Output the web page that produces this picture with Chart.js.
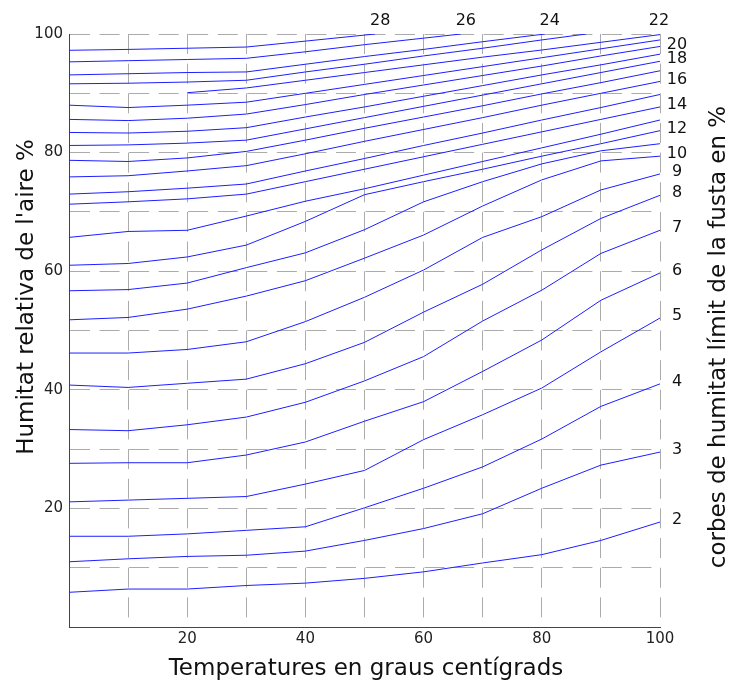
<!DOCTYPE html>
<html>
<head>
<meta charset="utf-8">
<style>
html,body{margin:0;padding:0;background:#fff;}
canvas{display:block;}
</style>
<script src="https://cdn.jsdelivr.net/npm/chart.js@4.4.1/dist/chart.umd.min.js"></script>
</head>
<body>
<canvas id="c" width="729" height="682"></canvas>
<script>
// ---- data ----
const temps = [0, 10, 20, 30, 40, 50, 60, 70, 80, 90, 100];

const c2  = [5.85, 6.4, 6.4, 7.0, 7.4, 8.2, 9.3, 10.8, 12.2, 14.6, 17.7];
const c3  = [11.0, 11.5, 11.9, 12.1, 12.8, 14.6, 16.6, 19.1, 23.4, 27.3, 29.5];
const c4  = [15.3, 15.3, 15.7, 16.3, 16.9, 20.1, 23.4, 27.0, 31.7, 37.2, 41.0];
const c5  = [21.1, 21.4, 21.7, 22.0, 24.1, 26.4, 31.6, 35.8, 40.3, 46.4, 52.1];
const c6  = [27.6, 27.7, 27.7, 29.0, 31.2, 34.7, 38.0, 43.1, 48.4, 55.1, 59.7];
const c7  = [33.3, 33.1, 34.1, 35.4, 37.9, 41.5, 45.6, 51.6, 56.8, 63.0, 66.9];
const c8  = [40.8, 40.4, 41.1, 41.8, 44.4, 48.0, 53.1, 57.8, 63.6, 68.9, 72.8];
const c9  = [46.2, 46.2, 46.8, 48.1, 51.5, 55.6, 60.2, 65.7, 69.2, 73.7, 76.4];
const c10 = [51.8, 52.2, 53.6, 55.8, 58.4, 62.2, 66.1, 71.0, 75.4, 78.6, 79.4];
const c11 = [56.7, 56.9, 58.0, 60.6, 63.1, 67.0, 71.7, 75.1, 78.1, 80.3, 81.5];
const c12 = [61.0, 61.3, 62.4, 64.4, 68.4, 72.9, 75.1, 77.2, 79.4, 81.5, 83.7];
const c13 = [65.7, 66.7, 66.9, 69.3, 71.8, 73.9, 76.2, 78.5, 80.8, 83.1, 85.5];
const c14 = [71.3, 71.7, 72.2, 73.0, 75.1, 77.2, 79.3, 81.4, 83.5, 85.6, 87.7];
const c15 = [73.0, 73.4, 74.0, 74.7, 76.9, 79.0, 81.2, 83.3, 85.5, 87.6, 89.8];
const c16 = [75.9, 76.1, 76.9, 77.8, 79.8, 81.9, 83.9, 85.9, 88.0, 90.0, 92.0];
const c17 = [78.7, 78.5, 79.1, 80.2, 82.1, 84.1, 86.0, 87.9, 89.9, 91.8, 93.8];
const c18 = [81.2, 81.3, 81.6, 82.1, 84.0, 85.9, 87.8, 89.7, 91.6, 93.5, 95.4];
const c19 = [83.4, 83.3, 83.6, 84.2, 86.0, 87.7, 89.5, 91.3, 93.1, 94.8, 96.6];
const c20 = [85.6, 85.4, 85.8, 86.5, 88.1, 89.8, 91.4, 93.0, 94.6, 96.3, 97.9];
const c21 = [88.0, 87.6, 88.0, 88.5, 90.0, 91.5, 93.0, 94.5, 96.0, 97.5, 99.0];
const c22 = [null, null, 90.1, 90.9, 92.2, 93.5, 94.8, 96.1, 97.3, 98.6, 99.9];
const c23 = [91.6, 91.7, 91.9, 92.2, 93.6, 94.9, 96.3, 97.6, 99.0, null, null];
const c24 = [93.1, 93.3, 93.5, 93.6, 94.9, 96.2, 97.4, 98.7, null, null, null];
const c26 = [95.3, 95.5, 95.7, 95.9, 97.0, 98.2, 99.3, null, null, null, null];
const c28 = [97.25, 97.4, 97.6, 97.8, 98.8, null, null, null, null, null, null];

// temperature at which a curve reaches 100 % relative humidity
const saturationTemps = {23: 87.5, 24: 80.5, 26: 66.3, 28: 51.8};

const rightLabels = [2, 3, 4, 5, 6, 7, 8, 9, 10, 12, 14, 16, 18, 20];
const topLabels = [22, 24, 26, 28];

const yTickLabels = [20, 40, 60, 80, 100];
const xTickLabels = [20, 40, 60, 80, 100];

const curves = [
  [2, c2], [3, c3], [4, c4], [5, c5], [6, c6], [7, c7], [8, c8], [9, c9], [10, c10],
  [11, c11], [12, c12], [13, c13], [14, c14], [15, c15], [16, c16], [17, c17],
  [18, c18], [19, c19], [20, c20], [21, c21], [22, c22], [23, c23], [24, c24],
  [26, c26], [28, c28]
];

function pointsFor(value, ys) {
  const pts = [];
  temps.forEach((t, i) => { if (ys[i] !== null) pts.push({x: t, y: ys[i]}); });
  if (saturationTemps[value] !== undefined) pts.push({x: saturationTemps[value], y: 100});
  return pts;
}

const datasets = curves.map(([v, ys]) => ({
  label: String(v),
  data: pointsFor(v, ys),
  borderColor: 'rgb(30,30,255)',
  borderWidth: 1,
  pointRadius: 0,
  tension: 0,
  fill: false
}));

const FONT = '"DejaVu Sans", sans-serif';

const textPlugin = {
  id: 'texts',
  afterDraw(chart) {
    const {ctx, chartArea, scales} = chart;
    const xs = scales.x, ys = scales.y;
    ctx.save();
    ctx.fillStyle = '#111';
    ctx.font = '16px ' + FONT;
    ctx.textAlign = 'center';
    ctx.textBaseline = 'middle';
    chart.data.datasets.forEach(ds => {
      const v = Number(ds.label);
      const last = ds.data[ds.data.length - 1];
      if (rightLabels.includes(v)) {
        ctx.fillText(ds.label, chartArea.right + 17, ys.getPixelForValue(last.y) - 2);
      } else if (topLabels.includes(v)) {
        const px = Math.min(xs.getPixelForValue(last.x) + 5, chartArea.right - 1);
        ctx.fillText(ds.label, px, chartArea.top - 13);
      }
    });
    ctx.font = '23px ' + FONT;
    ctx.textBaseline = 'alphabetic';
    // x title
    ctx.fillText('Temperatures en graus centígrads', 366, 675);
    // y title
    ctx.save();
    ctx.translate(33, 297);
    ctx.rotate(-Math.PI / 2);
    ctx.fillText("Humitat relativa de l'aire %", 0, 0);
    ctx.restore();
    // right title
    ctx.save();
    ctx.translate(725, 337);
    ctx.rotate(-Math.PI / 2);
    ctx.fillText('corbes de humitat límit de la fusta en %', 0, 0);
    ctx.restore();
    ctx.restore();
  }
};

new Chart(document.getElementById('c'), {
  type: 'line',
  data: {datasets},
  options: {
    responsive: false,
    animation: false,
    devicePixelRatio: 1,
    layout: {padding: {left: 0, right: 69, top: 34, bottom: 0}},
    plugins: {legend: {display: false}, tooltip: {enabled: false}},
    scales: {
      x: {
        type: 'linear', min: 0, max: 100,
        afterFit: s => { s.height = 55; },
        ticks: {
          stepSize: 10, autoSkip: false, maxRotation: 0, padding: 3,
          color: '#222', font: {family: FONT, size: 15},
          callback: v => xTickLabels.includes(v) ? String(v) : ''
        },
        grid: {color: '#ababab', lineWidth: 1, drawTicks: false},
        border: {display: true, color: '#444', width: 1, dash: [20, 9.65]}
      },
      y: {
        type: 'linear', min: 0, max: 100,
        afterFit: s => { s.width = 69; },
        ticks: {
          stepSize: 10, autoSkip: false, padding: 6,
          color: '#222', font: {family: FONT, size: 15},
          callback: v => yTickLabels.includes(v) ? String(v) : ''
        },
        grid: {color: '#ababab', lineWidth: 1, drawTicks: false},
        border: {display: true, color: '#444', width: 1, dash: [20, 9.55]}
      }
    }
  },
  plugins: [textPlugin]
});
</script>
</body>
</html>
